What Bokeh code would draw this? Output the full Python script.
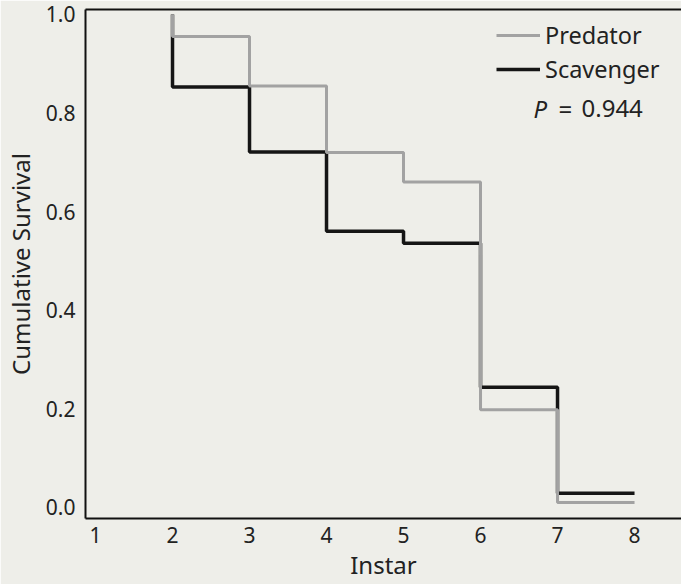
from bokeh.plotting import figure
from bokeh.models import (Range1d, LinearAxis, Legend, LegendItem, Label,
                          FixedTicker, PrintfTickFormatter)
from bokeh.embed import file_html
from bokeh.resources import INLINE

# ---- data ----
instar = [2, 2, 3, 4, 5, 6, 7, 8]
predator = [1.0, 0.955, 0.855, 0.72, 0.66, 0.198, 0.01, 0.01]
scavenger = [1.0, 0.853, 0.721, 0.56, 0.536, 0.244, 0.029, 0.029]
x_ticks = [1, 2, 3, 4, 5, 6, 7, 8]
y_ticks = [0.0, 0.2, 0.4, 0.6, 0.8, 1.0]
series_names = ["Predator", "Scavenger"]
p_value = "0.944"

FONT = "Noto Sans"
BG = "#eeeee9"
TXT = "#222222"

p = figure(width=681, height=584, output_backend="svg", toolbar_location=None,
           x_range=Range1d(0.870, 8.61), y_range=Range1d(-0.0224, 1.010),
           min_border_left=85, min_border_right=0, min_border_top=9,
           min_border_bottom=66)
p.background_fill_color = BG
p.border_fill_color = BG
p.outline_line_color = None
p.grid.visible = False

sc = p.step(instar, scavenger, mode="after", line_color="#151515", line_width=3.5)
pr = p.step(instar, predator, mode="after", line_color="#a2a2a2", line_width=3)

for ax in (p.xaxis[0], p.yaxis[0]):
    ax.axis_line_color = "#111111"
    ax.axis_line_width = 2
    ax.major_tick_out = 0
    ax.major_tick_in = 0
    ax.minor_tick_out = 0
    ax.minor_tick_in = 0
    ax.major_label_text_font = FONT
    ax.major_label_text_font_size = "21px"
    ax.major_label_text_color = TXT
    ax.axis_label_text_font = FONT
    ax.axis_label_text_font_size = "24px"
    ax.axis_label_text_font_style = "normal"
    ax.axis_label_text_color = TXT

p.xaxis[0].ticker = FixedTicker(ticks=x_ticks)
p.xaxis[0].axis_label = "Instar"
p.xaxis[0].major_label_standoff = 8
p.xaxis[0].axis_label_standoff = 2

p.yaxis[0].ticker = FixedTicker(ticks=y_ticks)
p.yaxis[0].formatter = PrintfTickFormatter(format="%.1f")
p.yaxis[0].axis_label = "Cumulative Survival"
p.yaxis[0].major_label_standoff = 10
p.yaxis[0].axis_label_standoff = 6

top = LinearAxis(ticker=FixedTicker(ticks=[]), axis_line_color="#111111",
                 axis_line_width=2, major_tick_out=0, major_tick_in=0,
                 minor_tick_out=0, minor_tick_in=0, major_label_standoff=0,
                 major_label_text_font_size="0px")
p.add_layout(top, "above")

legend = Legend(items=[LegendItem(label=series_names[0], renderers=[pr]),
                       LegendItem(label=series_names[1], renderers=[sc])],
                location=(411, 432), orientation="vertical",
                background_fill_alpha=0, border_line_color=None,
                padding=0, margin=0, spacing=0,
                glyph_width=44, glyph_height=34, label_height=34,
                label_standoff=5,
                label_text_font=FONT, label_text_font_size="23.5px",
                label_text_color=TXT)
p.add_layout(legend, "center")

common = dict(x_units="screen", y_units="screen", y=410, text_font=FONT,
              text_font_size="24px", text_color=TXT, text_baseline="alphabetic")
p.add_layout(Label(x=448, text="P", text_font_style="italic", **common))
p.add_layout(Label(x=473, text="=", **common))
p.add_layout(Label(x=496, text=p_value, **common))

open("out.html", "w").write(file_html(p, INLINE))
